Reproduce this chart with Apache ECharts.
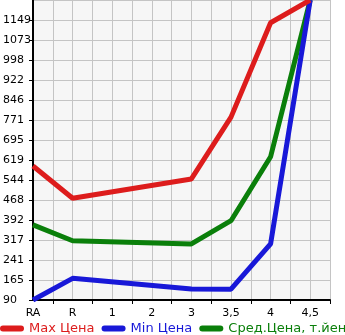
<!DOCTYPE html>
<html><head><meta charset="utf-8">
<script src="https://cdn.jsdelivr.net/npm/echarts@6/dist/echarts.min.js"></script>
<style>html,body{margin:0;padding:0;background:#fff}#c{width:345px;height:335px}</style>
</head><body><div id="c"></div>
<script>
var categories = ['RA', 'R', '1', '2', '3', '3,5', '4', '4,5'];
var maxPrice = [597, 475, null, null, 548, 782, 1139, 1225];
var minPrice = [90, 172, null, null, 132, 131, 302, 1225];
var avgPrice = [374, 314, null, null, 302, 390, 632, 1225];
var seriesNames = ['Max Цена', 'Min Цена', 'Сред.Цена, т.йен'];
var seriesColors = ['#dd1c1c', '#1818d8', '#0a7f0a'];
var yMin = 90, yMax = 1225, ySteps = 15;

// interleave categories with half-steps so the grid has a line every half category
var slots = [];
categories.forEach(function (c, i) { slots.push('s' + (2 * i)); slots.push('s' + (2 * i + 1)); });
function spread(arr) {
  var out = [];
  arr.forEach(function (v) { out.push(v); out.push(null); });
  return out;
}
var datasets = [maxPrice, minPrice, avgPrice];
var chart = echarts.init(document.getElementById('c'), null, {renderer: 'canvas'});
chart.setOption({
  animation: false,
  textStyle: {fontFamily: 'DejaVu Sans'},
  grid: {left: 30, right: 15, top: 0, bottom: 35, show: true, backgroundColor: '#f6f6f6', borderWidth: 0},
  xAxis: {
    type: 'category', boundaryGap: false, data: slots,
    axisLine: {lineStyle: {color: '#000', width: 2}},
    axisTick: {length: 4, interval: function (i) { return i % 2 === 1; }, lineStyle: {color: '#000'}},
    axisLabel: {
      interval: function (i) { return i % 2 === 0; },
      formatter: function (v, i) { return categories[i / 2] || ''; },
      color: '#000', fontSize: 11, margin: 8, fontFamily: 'DejaVu Sans'
    },
    splitLine: {show: true, interval: 0, lineStyle: {color: '#c4c4c4', width: 1}}
  },
  yAxis: {
    type: 'value', min: yMin, max: yMax, interval: (yMax - yMin) / ySteps,
    axisLine: {show: true, lineStyle: {color: '#000', width: 2}},
    axisTick: {show: true, length: 4, lineStyle: {color: '#000'}},
    axisLabel: {
      showMaxLabel: false, align: 'left', margin: 30, color: '#000', fontSize: 11,
      fontFamily: 'DejaVu Sans', padding: [0, 0, 9, 0],
      formatter: function (v) { return String(Math.floor(v + 1e-6)); }
    },
    splitLine: {show: true, lineStyle: {color: '#c4c4c4', width: 1}}
  },
  legend: {
    top: 322, left: 0, width: 700, padding: 0, itemGap: 7, itemWidth: 24, itemHeight: 7,
    icon: 'path://M3,0 H21 A3,3 0 0 1 21,6 H3 A3,3 0 0 1 3,0 Z',
    textStyle: {fontSize: 13, fontFamily: 'DejaVu Sans'},
    data: seriesNames.map(function (n, i) { return {name: n, textStyle: {color: seriesColors[i]}}; })
  },
  series: seriesNames.map(function (n, i) {
    return {
      name: n, type: 'line', data: spread(datasets[i]), connectNulls: true,
      showSymbol: false, symbol: 'none', color: seriesColors[i],
      lineStyle: {width: 5, color: seriesColors[i]}, z: 3 - i
    };
  })
});
</script></body></html>
